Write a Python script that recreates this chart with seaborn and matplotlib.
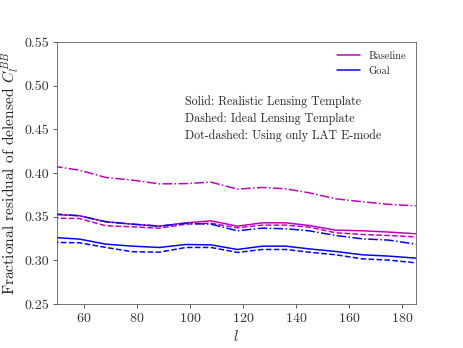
import numpy as np
import pandas as pd
import matplotlib
matplotlib.use("Agg")
import matplotlib.pyplot as plt
import seaborn as sns

# -------------------------------
# Data
# -------------------------------
ell = [48.5, 58.4, 68.4, 78.4, 88.5, 98.5, 107.9, 117.9, 127.3, 136.1, 144.8, 154.9, 164.9, 174.9, 185.0]

base_solid   = [0.3527, 0.3512, 0.3443, 0.3416, 0.3393, 0.3431, 0.3454, 0.3393, 0.3431, 0.3431, 0.3401, 0.3347, 0.3340, 0.3325, 0.3306]
base_dashed  = [0.3485, 0.3480, 0.3397, 0.3385, 0.3370, 0.3416, 0.3427, 0.3374, 0.3405, 0.3405, 0.3382, 0.3317, 0.3298, 0.3286, 0.3270]
base_dashdot = [0.4080, 0.4034, 0.3950, 0.3920, 0.3877, 0.3880, 0.3897, 0.3817, 0.3836, 0.3820, 0.3775, 0.3706, 0.3672, 0.3642, 0.3626]

goal_solid   = [0.3264, 0.3245, 0.3187, 0.3164, 0.3149, 0.3183, 0.3179, 0.3126, 0.3164, 0.3164, 0.3133, 0.3103, 0.3065, 0.3050, 0.3027]
goal_dashed  = [0.3207, 0.3203, 0.3149, 0.3100, 0.3095, 0.3149, 0.3149, 0.3092, 0.3126, 0.3126, 0.3095, 0.3065, 0.3019, 0.3004, 0.2973]
goal_dashdot = [0.3534, 0.3512, 0.3443, 0.3416, 0.3393, 0.3424, 0.3416, 0.3340, 0.3370, 0.3363, 0.3340, 0.3286, 0.3248, 0.3233, 0.3187]

y_ticks = [0.25, 0.30, 0.35, 0.40, 0.45, 0.50, 0.55]
x_ticks = [60, 80, 100, 120, 140, 160, 180]

# -------------------------------
# Style
# -------------------------------
sns.set_style("ticks")
plt.rcParams['font.family'] = ['cmr10', 'DejaVu Serif']
plt.rcParams['mathtext.fontset'] = 'cm'
plt.rcParams['axes.formatter.use_mathtext'] = True
plt.rcParams['axes.edgecolor'] = '#555555'
plt.rcParams['xtick.color'] = '#333333'
plt.rcParams['ytick.color'] = '#333333'

fig = plt.figure(figsize=(463 / 72, 348 / 72), dpi=72)
ax = fig.add_axes([0.123, 0.126, 0.775, 0.753])

rows = []
for name, vals, style in [
    ("Baseline", base_solid, "solid"), ("Baseline", base_dashed, "dashed"), ("Baseline", base_dashdot, "dashdot"),
    ("Goal", goal_solid, "solid"), ("Goal", goal_dashed, "dashed"), ("Goal", goal_dashdot, "dashdot"),
]:
    for l, v in zip(ell, vals):
        rows.append({"l": l, "res": v, "case": name, "style": style})
df = pd.DataFrame(rows)

colors = {"Baseline": "m", "Goal": "b"}
dashes = {"solid": "-", "dashed": "--", "dashdot": "-."}

for (case, style), sub in df.groupby(["case", "style"], sort=False):
    sns.lineplot(data=sub, x="l", y="res", ax=ax, color=colors[case],
                 linestyle=dashes[style], linewidth=1.5,
                 label=case if style == "solid" else None)

ax.set_xlim(50, 185)
ax.set_ylim(0.25, 0.55)
ax.set_xticks(x_ticks)
ax.set_yticks(y_ticks)
ax.set_yticklabels([f"{t:.2f}" for t in y_ticks])
ax.tick_params(labelsize=14, length=4)
ax.set_xlabel("$l$", fontsize=15)
ax.set_ylabel("Fractional residual of delensed $C_l^{BB}$", fontsize=15.5, labelpad=3)

ax.legend(loc="upper right", frameon=False, fontsize=10.5, handlelength=2.2)

ax.text(0.356, 0.772, "Solid: Realistic Lensing Template", transform=ax.transAxes, fontsize=12, va="center")
ax.text(0.356, 0.708, "Dashed: Ideal Lensing Template", transform=ax.transAxes, fontsize=12, va="center")
ax.text(0.356, 0.644, "Dot-dashed: Using only LAT E-mode", transform=ax.transAxes, fontsize=12, va="center")

fig.savefig("out.png", dpi=72)
